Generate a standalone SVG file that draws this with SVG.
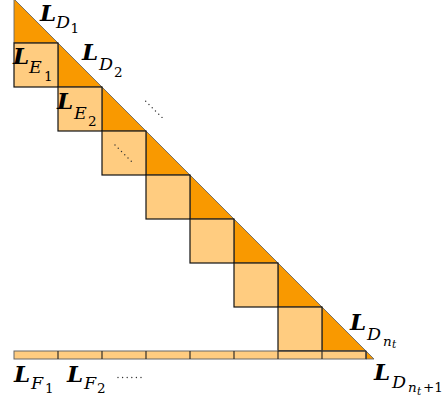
<svg xmlns="http://www.w3.org/2000/svg" width="445" height="401" viewBox="0 0 445 401">
<style>
.d{fill:#F99900;stroke:#666;stroke-width:0.9}
.e{fill:#FFCC80;stroke:#111;stroke-width:1.2}
.f{fill:#FFCC80;stroke:#666;stroke-width:1}
.div{stroke:#222;stroke-width:1.1}
.dots{stroke:#333;stroke-width:1.4;stroke-linecap:round;stroke-dasharray:0 4.6;fill:none}
text{font-family:"DejaVu Serif","Liberation Serif",serif;fill:#000}
.L{font-weight:bold;font-style:italic;font-size:23px}
.s{font-style:italic;font-size:17.5px}
.ss{font-size:13.5px}
.ssi{font-style:italic;font-size:13.5px}
.sss{font-style:italic;font-size:10.5px}
</style>
<rect width="445" height="401" fill="#fff"/>
<g id="triangles">
<polygon id="D1" class="d" points="14,-1 14,43 58,43"/>
<polygon id="D2" class="d" points="58,43 58,87 102,87"/>
<polygon id="D3" class="d" points="102,87 102,131 146,131"/>
<polygon id="D4" class="d" points="146,131 146,175 190,175"/>
<polygon id="D5" class="d" points="190,175 190,219 234,219"/>
<polygon id="D6" class="d" points="234,219 234,263 278,263"/>
<polygon id="D7" class="d" points="278,263 278,307 322,307"/>
<polygon id="D8" class="d" points="322,307 322,351 366,351"/>
<polygon id="D9" class="d" points="366,351 366,359 374,359"/>
</g>
<g id="squares">
<rect id="E1" class="e" x="14" y="43" width="44" height="44"/>
<rect id="E2" class="e" x="58" y="87" width="44" height="44"/>
<rect id="E3" class="e" x="102" y="131" width="44" height="44"/>
<rect id="E4" class="e" x="146" y="175" width="44" height="44"/>
<rect id="E5" class="e" x="190" y="219" width="44" height="44"/>
<rect id="E6" class="e" x="234" y="263" width="44" height="44"/>
<rect id="E7" class="e" x="278" y="307" width="44" height="44"/>
</g>
<g id="strip">
<rect class="f" x="14" y="351" width="352" height="8"/>
<path class="div" d="M58,351V359M102,351V359M146,351V359M190,351V359M234,351V359M278,351V359M322,351V359M366,351V359M278,351H366"/>
</g>
<g id="connectors">
<path class="dots" d="M145.7,101.2L164.2,119.6"/>
<path class="dots" d="M115,145L133.5,163.5"/>
<path class="dots" d="M118,377.5H141"/>
</g>
<g id="labels">
<text id="lD1"><tspan class="L" x="40" y="21">L</tspan><tspan class="s" x="56" y="28">D</tspan><tspan class="ss" x="70.5" y="33">1</tspan></text>
<text id="lE1"><tspan class="L" x="13" y="64">L</tspan><tspan class="s" x="29" y="73">E</tspan><tspan class="ss" x="44" y="81">1</tspan></text>
<text id="lD2"><tspan class="L" x="82" y="60">L</tspan><tspan class="s" x="99" y="70">D</tspan><tspan class="ss" x="114" y="76.5">2</tspan></text>
<text id="lE2"><tspan class="L" x="57" y="109">L</tspan><tspan class="s" x="74" y="119">E</tspan><tspan class="ss" x="88" y="126">2</tspan></text>
<text id="lDnt"><tspan class="L" x="350" y="330">L</tspan><tspan class="s" x="367" y="340">D</tspan><tspan class="ssi" x="383" y="345.5">n</tspan><tspan class="sss" x="392" y="348">t</tspan></text>
<text id="lDnt1"><tspan class="L" x="374" y="380">L</tspan><tspan class="s" x="392" y="388">D</tspan><tspan class="ssi" x="408" y="392">n</tspan><tspan class="sss" x="417" y="394.5">t</tspan><tspan class="ss" x="423" y="392">+1</tspan></text>
<text id="lF1"><tspan class="L" x="14" y="382">L</tspan><tspan class="s" x="31" y="389">F</tspan><tspan class="ss" x="45" y="393">1</tspan></text>
<text id="lF2"><tspan class="L" x="67" y="382">L</tspan><tspan class="s" x="84" y="389">F</tspan><tspan class="ss" x="97" y="393">2</tspan></text>
</g>
</svg>
